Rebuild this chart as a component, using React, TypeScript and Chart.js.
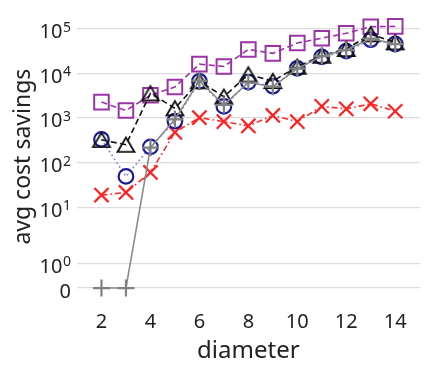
import React, { useEffect, useRef } from "react";
import { Chart, registerables } from "chart.js";

Chart.register(...registerables);

const diameters = [2, 3, 4, 5, 6, 7, 8, 9, 10, 11, 12, 13, 14];
const squareSeries = [2260, 1460, 3210, 4940, 16000, 14200, 34100, 27900, 47500, 61000, 78500, 110000, 112000];
const triangleSeries = [323, 251, 3550, 1640, 6600, 2990, 9400, 6700, 14000, 24700, 35000, 74700, 49200];
const circleSeries = [330, 49, 224, 850, 6600, 1810, 6360, 5130, 12900, 23200, 31300, 56400, 45200];
const crossSeries = [18.7, 21.4, 60, 475, 1010, 826, 662, 1134, 826, 1810, 1590, 2070, 1410];
const plusSeries = [0, 0, 215, 930, 6800, 1950, 6200, 5000, 12700, 24300, 33000, 60000, 45000];

const xTicks = [2, 4, 6, 8, 10, 12, 14];
const yTickValues = [0, 1, 10, 100, 1000, 10000, 100000];
const yTickBases = ["0", "10", "10", "10", "10", "10", "10"];
const yTickExponents = ["", "0", "1", "2", "3", "4", "5"];

const xLabel = "diameter";
const yLabel = "avg cost savings";

// symmetric log transform (linthresh = 2, linscale = 1, base 10)
const LINTHRESH = 2;
const LINSCALE = 1 / (1 - 1 / 10);
function symlog(v: number): number {
  const a = Math.abs(v);
  if (a <= LINTHRESH) return v * LINSCALE;
  return Math.sign(v) * LINTHRESH * (LINSCALE + Math.log10(a / LINTHRESH));
}

function toPoints(values: number[]) {
  return diameters.map((d, i) => ({ x: d, y: symlog(values[i]) }));
}

function makeTriangle(color: string, lw: number): HTMLCanvasElement {
  const c = document.createElement("canvas");
  c.width = 22;
  c.height = 22;
  const ctx = c.getContext("2d")!;
  const cx = 11, cy = 11, hw = 8.5, hh = 7.2;
  ctx.strokeStyle = color;
  ctx.lineWidth = lw;
  ctx.lineJoin = "miter";
  ctx.beginPath();
  ctx.moveTo(cx, cy - hh);
  ctx.lineTo(cx - hw, cy + hh);
  ctx.lineTo(cx + hw, cy + hh);
  ctx.closePath();
  ctx.stroke();
  return c;
}

const FONT = "'Noto Sans', 'Open Sans', sans-serif";
const TEXT_COLOR = "#222222";

const yTickLabelPlugin = {
  id: "yTickLabels",
  afterDraw(chart: any) {
    const s = chart.scales.y;
    const ctx = chart.ctx as CanvasRenderingContext2D;
    ctx.save();
    ctx.fillStyle = TEXT_COLOR;
    ctx.textBaseline = "alphabetic";
    ctx.textAlign = "left";
    const right = s.right - 6;
    yTickValues.forEach((v, i) => {
      const y = s.getPixelForValue(symlog(v));
      const base = yTickBases[i];
      const exp = yTickExponents[i];
      ctx.font = `14px ${FONT}`;
      const ew = exp ? ctx.measureText(exp).width : 0;
      ctx.font = `20px ${FONT}`;
      const bw = ctx.measureText(base).width;
      const gap = exp ? 0.5 : 0;
      ctx.fillText(base, right - ew - gap - bw, y + 9.5);
      if (exp) {
        ctx.font = `14px ${FONT}`;
        ctx.fillText(exp, right - ew, y + 3);
      }
    });
    ctx.restore();
  },
};

export default function App() {
  const ref = useRef<HTMLCanvasElement | null>(null);

  useEffect(() => {
    if (!ref.current) return;
    const tri = makeTriangle("#111111", 1.8);
    const chart = new Chart(ref.current, {
      type: "line",
      data: {
        datasets: [
          {
            label: "plus",
            data: toPoints(plusSeries),
            borderColor: "#8a8a8a",
            borderWidth: 1.6,
            pointStyle: "cross",
            pointRadius: 8.5,
            pointBorderColor: "#808080",
            pointBorderWidth: 2.2,
            pointBackgroundColor: "rgba(0,0,0,0)",
            fill: false,
          },
          {
            label: "triangle",
            data: toPoints(triangleSeries),
            borderColor: "#111111",
            borderWidth: 1.6,
            borderDash: [6, 3.5],
            pointStyle: tri as any,
            pointRadius: 9,
            fill: false,
          },
          {
            label: "circle",
            data: toPoints(circleSeries),
            borderColor: "#7a72f0",
            borderWidth: 1.6,
            borderDash: [1.6, 3],
            pointStyle: "circle",
            pointRadius: 7.3,
            pointBorderColor: "#1a1a9c",
            pointBorderWidth: 2.2,
            pointBackgroundColor: "rgba(0,0,0,0)",
            fill: false,
          },
          {
            label: "cross",
            data: toPoints(crossSeries),
            borderColor: "#ff2a2a",
            borderWidth: 1.6,
            borderDash: [6, 3, 1.6, 3],
            pointStyle: "crossRot",
            pointRadius: 10,
            pointBorderColor: "#ff2020",
            pointBorderWidth: 2.2,
            pointBackgroundColor: "rgba(0,0,0,0)",
            fill: false,
          },
          {
            label: "square",
            data: toPoints(squareSeries),
            borderColor: "#9a34a6",
            borderWidth: 1.6,
            borderDash: [6, 3.5],
            pointStyle: "rect",
            pointRadius: 10.3,
            pointBorderColor: "#9a34a6",
            pointBorderWidth: 2,
            pointBackgroundColor: "rgba(0,0,0,0)",
            fill: false,
          },
        ],
      },
      options: {
        animation: false,
        responsive: false,
        events: [],
        layout: { padding: { top: 5, right: 7, left: 0, bottom: 0 } },
        plugins: { legend: { display: false }, tooltip: { enabled: false } },
        scales: {
          x: {
            type: "linear",
            min: 1,
            max: 15,
            grid: { display: false, drawTicks: false },
            border: { display: false },
            afterBuildTicks: (s: any) => {
              s.ticks = xTicks.map((v) => ({ value: v }));
            },
            afterFit: (s: any) => {
              s.height = 68;
            },
            ticks: {
              padding: 9,
              color: TEXT_COLOR,
              font: { family: FONT, size: 20 },
              maxRotation: 0,
              callback: (v: any) => String(v),
            },
            title: {
              display: true,
              text: xLabel,
              color: TEXT_COLOR,
              font: { family: FONT, size: 24 },
              padding: { top: 0, bottom: 3 },
            },
          },
          y: {
            type: "linear",
            min: -0.58,
            max: 12.35,
            grid: { color: "#dcdcdc", lineWidth: 1.2, drawTicks: false },
            border: { display: false },
            afterBuildTicks: (s: any) => {
              s.ticks = yTickValues.map((v) => ({ value: symlog(v) }));
            },
            afterFit: (s: any) => {
              s.width = 77;
            },
            ticks: { display: false },
            title: {
              display: true,
              text: yLabel,
              color: TEXT_COLOR,
              font: { family: FONT, size: 23 },
              padding: { top: 10, bottom: 0 },
            },
          },
        },
      },
      plugins: [yTickLabelPlugin],
    });
    return () => chart.destroy();
  }, []);

  return (
    <div style={{ position: "absolute", left: 0, top: 0, width: 432, height: 369, background: "#ffffff" }}>
      <canvas ref={ref} width={432} height={369} style={{ display: "block" }} />
    </div>
  );
}
